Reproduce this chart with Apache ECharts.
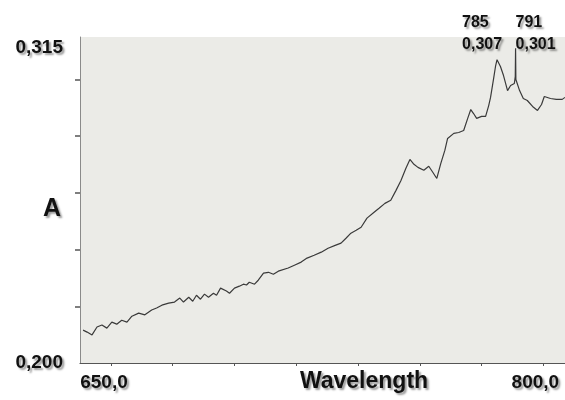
<!DOCTYPE html>
<html>
<head>
<meta charset="utf-8">
<script src="https://cdn.jsdelivr.net/npm/echarts@6/dist/echarts.min.js"></script>
<style>
  html, body { margin: 0; padding: 0; background: #fff; }
  #chart { width: 565px; height: 400px; }
</style>
</head>
<body>
<div id="chart"></div>
<script>
// spectrum (nm, absorbance)
const wavelength = [
  651.0, 652.3, 653.9, 655.5, 657.1, 658.7, 660.3, 661.9, 663.5, 665.2,
  666.8, 669.0, 671.0, 673.2, 674.8,
  676.5, 678.7, 680.6, 682.3, 683.5, 685.2, 686.5, 687.7, 689.0, 690.3,
  691.6, 693.2, 694.2, 695.5, 697.4, 698.4, 700.0, 701.6, 702.9, 703.9,
  704.8, 706.5, 707.7, 709.4, 711.0, 712.6, 714.2,
  717.4, 719.4, 721.6, 723.5,
  725.8, 728.1, 730.3, 732.6, 734.5, 736.1, 737.7, 739.4, 741.0, 742.9,
  745.2, 746.8, 748.7, 750.6, 752.3, 753.9, 755.5, 756.8, 758.1, 759.4,
  761.3, 762.9, 764.2, 765.5, 766.8, 768.1, 769.0, 771.0, 772.6, 774.2,
  775.5, 776.5, 777.4, 778.4, 780.0, 781.3, 782.3, 782.9, 783.9, 784.5,
  785.0, 786.1, 787.1, 788.4, 789.4, 790.6, 790.9, 791.0, 791.1, 792.3,
  793.5, 794.8, 796.5, 798.1, 799.4, 800.3, 802.3, 804.2, 806.1, 807.0
];
const absorbance = [
  0.2116, 0.2109, 0.2099, 0.2127, 0.2134, 0.2123, 0.2144, 0.2137, 0.2151, 0.2144,
  0.2165, 0.2176, 0.2170, 0.2187, 0.2194,
  0.2204, 0.2211, 0.2215, 0.2229, 0.2215, 0.2232, 0.2218, 0.2239, 0.2225, 0.2243,
  0.2232, 0.2246, 0.2239, 0.2264, 0.2254, 0.2246, 0.2264, 0.2271, 0.2278, 0.2275,
  0.2285, 0.2278, 0.2292, 0.2317, 0.2320, 0.2313, 0.2324,
  0.2335, 0.2345, 0.2356, 0.2370,
  0.2380, 0.2391, 0.2405, 0.2415, 0.2423, 0.2440, 0.2458, 0.2468, 0.2479, 0.2511,
  0.2532, 0.2546, 0.2563, 0.2574, 0.2609, 0.2644, 0.2687, 0.2718, 0.2701, 0.2690,
  0.2680, 0.2694, 0.2673, 0.2651, 0.2704, 0.2750, 0.2792, 0.2810, 0.2813, 0.2820,
  0.2863, 0.2894, 0.2880, 0.2863, 0.2870, 0.2870, 0.2908, 0.2937, 0.3004, 0.3046,
  0.3070, 0.3046, 0.3014, 0.2961, 0.2979, 0.2986, 0.3010, 0.3110, 0.3000, 0.2961,
  0.2933, 0.2926, 0.2905, 0.2891, 0.2912, 0.2940, 0.2933, 0.2930, 0.2930, 0.2937
];

// marked peaks
const peakWl = [785, 791];
const peakA = [0.307, 0.301];
const peakWlText = ['785', '791'];
const peakAText = ['0,307', '0,301'];

// axis ticks / labels
const xTicks = [660, 680, 700, 720, 740, 760, 780, 800];
const xLabelValues = [650, 800];
const xLabelText = ['650,0', '800,0'];
const yTicks = [0.22, 0.24, 0.26, 0.28, 0.30];
const yLabelValues = [0.2, 0.315];
const yLabelText = ['0,200', '0,315'];

const shadow = {
  color: '#111',
  fontFamily: 'Liberation Sans',
  fontWeight: 'bold',
  textShadowColor: 'rgba(0,0,0,0.4)',
  textShadowBlur: 2,
  textShadowOffsetX: 2,
  textShadowOffsetY: 2
};

const myChart = echarts.init(document.getElementById('chart'));
myChart.setOption({
  backgroundColor: '#fff',
  animation: false,
  grid: {
    left: 80, right: 0, top: 37, bottom: 37,
    outerBoundsMode: 'none',
    containLabel: false,
    show: true,
    backgroundColor: '#ebebe7',
    borderWidth: 0
  },
  xAxis: {
    type: 'value',
    min: 650,
    max: 807,
    name: 'Wavelength',
    nameLocation: 'middle',
    nameMoveOverlap: false,
    nameGap: 7,
    nameTextStyle: {...shadow, fontSize: 23, padding: [0, 0, 0, 83]},
    axisLine: {lineStyle: {color: '#555', width: 1.2}},
    axisTick: {customValues: xTicks, length: 3, lineStyle: {color: '#555'}},
    minorTick: {show: false},
    splitLine: {show: false},
    axisLabel: {
      customValues: xLabelValues,
      margin: 10,
      formatter(v) {
        const i = xLabelValues.indexOf(v);
        if (i < 0) return '';
        return (i === 0 ? '{l|' : '{r|') + xLabelText[i] + '}';
      },
      rich: {
        l: {...shadow, fontSize: 19, padding: [0, 0, 0, 48]},
        r: {...shadow, fontSize: 19, padding: [0, 16, 0, 0]}
      }
    }
  },
  yAxis: {
    type: 'value',
    min: 0.2,
    max: 0.315,
    name: 'A',
    nameLocation: 'middle',
    nameMoveOverlap: false,
    nameRotate: 0,
    nameGap: 19,
    nameTextStyle: {...shadow, fontSize: 25, verticalAlign: 'top', lineHeight: 18},
    axisLine: {show: true, lineStyle: {color: '#8a8a8a', width: 1}},
    axisTick: {show: true, customValues: yTicks, length: 5, lineStyle: {color: '#555', width: 1.5}},
    splitLine: {show: false},
    axisLabel: {
      customValues: yLabelValues,
      margin: 17,
      formatter(v) {
        const i = yLabelValues.indexOf(v);
        if (i < 0) return '';
        return (i === 1 ? '{t|' : '{b|') + yLabelText[i] + '}';
      },
      rich: {
        t: {...shadow, fontSize: 19, padding: [22, 0, 0, 0]},
        b: {...shadow, fontSize: 19}
      }
    }
  },
  series: [{
    type: 'line',
    data: wavelength.map((w, i) => [w, absorbance[i]]),
    showSymbol: false,
    lineStyle: {color: '#3a3a3a', width: 1.2},
    markPoint: {
      symbol: 'circle',
      symbolSize: 0,
      data: peakWl.map((w, i) => ({
        coord: [w, peakA[i]],
        label: {
          show: true,
          position: 'inside',
          align: 'left',
          verticalAlign: 'bottom',
          offset: i === 0 ? [-35, -4] : [0, -21],
          formatter: '{n|' + peakWlText[i] + '}\n{v|' + peakAText[i] + '}',
          rich: {
            n: {...shadow, fontSize: 16, lineHeight: 22},
            v: {...shadow, fontSize: 16, lineHeight: 22}
          }
        }
      }))
    }
  }]
});
</script>
</body>
</html>
